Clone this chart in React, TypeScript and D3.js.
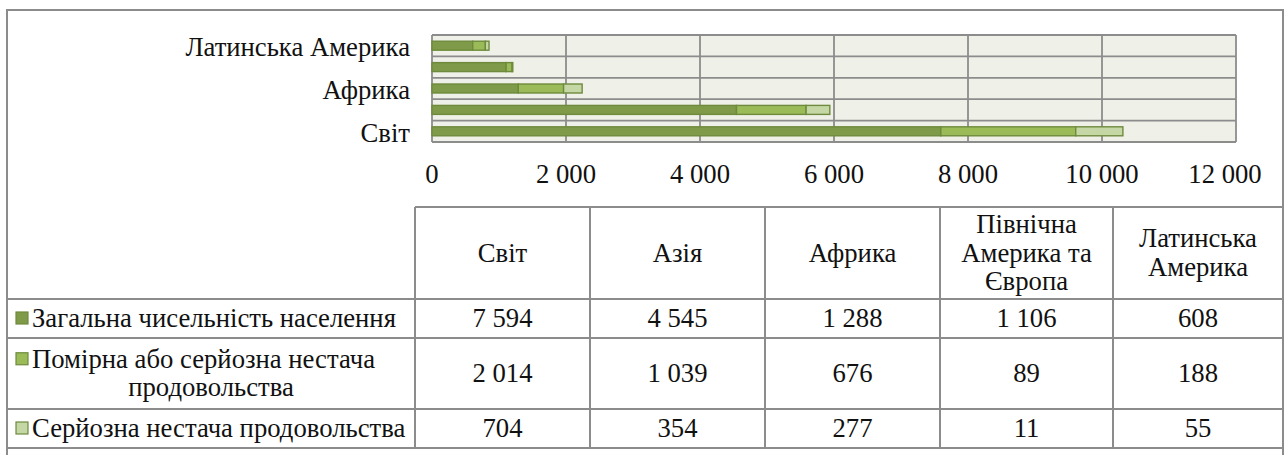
import React from 'react';
import * as d3 from 'd3';

// regions, bottom (Світ) to top
const regions = ['Світ', 'Азія', 'Африка', 'Північна Америка та Європа', 'Латинська Америка'];
const regionHeader = [['Світ'], ['Азія'], ['Африка'], ['Північна', 'Америка та', 'Європа'], ['Латинська', 'Америка']];

const totalPopulation = [7594, 4545, 1288, 1106, 608];
const moderateOrSevere = [2014, 1039, 676, 89, 188];
const severeShortage = [704, 354, 277, 11, 55];

const seriesKeys = ['total', 'moderate', 'severe'];
const seriesLabels = [
  ['Загальна чисельність населення'],
  ['Помірна або серйозна нестача', 'продовольства'],
  ['Серйозна нестача продовольства'],
];
const seriesColors = ['#7f9a48', '#9bbb59', '#c6d7a6'];
const xTicks = [0, 2000, 4000, 6000, 8000, 10000, 12000];

const FS = 26.7;
const GRID = '#8c8c8c';
const BAR_STROKE = '#6e8b3d';

const fmt = d3.formatLocale({ decimal: ',', thousands: '\u00a0', grouping: [3], currency: ['', ''] }).format(',d');

const plot = { left: 432, right: 1236, top: 35, bottom: 142 };
const colEdges = [415, 590, 765, 940, 1113, 1283];
const rowEdges = [207, 299, 338, 409, 448];
const lineGap = 28.5;

const App = () => {
  const rows = regions.map((r, i) => ({
    region: r,
    total: totalPopulation[i],
    moderate: moderateOrSevere[i],
    severe: severeShortage[i],
  }));
  const stacked = d3.stack<any>().keys(seriesKeys)(rows);

  const x = d3.scaleLinear().domain([0, 12000]).range([plot.left, plot.right]);
  const y = d3.scaleBand().domain([...regions].reverse()).range([plot.top, plot.bottom]).padding(0);
  const barH = y.bandwidth() * 0.42;
  const yEdges = [...y.domain().map(d => y(d) as number), plot.bottom];

  const seriesValues = [totalPopulation, moderateOrSevere, severeShortage];
  const headerMid = (rowEdges[0] + rowEdges[1]) / 2;

  return (
    <svg
      width={1285}
      height={455}
      style={{ position: 'absolute', left: 0, top: 0, background: 'white', fontFamily: 'Liberation Serif', fontSize: FS }}
    >
      {/* outer frame */}
      <rect x={7} y={10} width={1276} height={520} fill="white" stroke={GRID} strokeWidth={2} />

      {/* plot area */}
      <rect x={plot.left} y={plot.top} width={plot.right - plot.left} height={plot.bottom - plot.top} fill="#eff1e8" />
      {xTicks.map(t => (
        <line key={'vx' + t} x1={x(t)} x2={x(t)} y1={plot.top} y2={plot.bottom} stroke={GRID} strokeWidth={1.8} />
      ))}
      {yEdges.map((e, i) => (
        <line key={'hy' + i} x1={plot.left} x2={plot.right} y1={e} y2={e} stroke={GRID} strokeWidth={1.8} />
      ))}

      {stacked.map((layer, si) => (
        <g key={layer.key}>
          {layer.map(d => (
            <rect
              key={d.data.region}
              x={x(d[0])}
              width={x(d[1]) - x(d[0])}
              y={(y(d.data.region) as number) + y.bandwidth() / 2 - barH / 2}
              height={barH}
              fill={seriesColors[si]}
              stroke={BAR_STROKE}
              strokeWidth={1.4}
            />
          ))}
        </g>
      ))}

      {/* category labels, only every other fits */}
      {regions.filter((_, i) => i % 2 === 0).map(r => (
        <text key={r} x={410} y={(y(r) as number) + y.bandwidth() / 2 + 10.5} textAnchor="end" fill="#111">
          {r}
        </text>
      ))}

      {/* last label is pulled in so it stays inside the frame */}
      {xTicks.map(t => (
        <text key={'tx' + t} x={Math.min(x(t), plot.right - 11)} y={183} textAnchor="middle" fill="#111">
          {fmt(t)}
        </text>
      ))}

      {/* data table */}
      <line x1={colEdges[0]} x2={colEdges[5]} y1={rowEdges[0]} y2={rowEdges[0]} stroke={GRID} strokeWidth={2} />
      {rowEdges.slice(1).map(ry => (
        <line key={'r' + ry} x1={7} x2={colEdges[5]} y1={ry} y2={ry} stroke={GRID} strokeWidth={2} />
      ))}
      {colEdges.map(cx => (
        <line key={'c' + cx} x1={cx} x2={cx} y1={rowEdges[0]} y2={rowEdges[4]} stroke={GRID} strokeWidth={2} />
      ))}

      {regionHeader.map((lines, i) => {
        const cx = (colEdges[i] + colEdges[i + 1]) / 2;
        const start = headerMid - ((lines.length - 1) * lineGap) / 2 + 8.5;
        return lines.map((ln, j) => (
          <text key={'h' + i + j} x={cx} y={start + j * lineGap} textAnchor="middle" fill="#111">
            {ln}
          </text>
        ));
      })}

      {seriesValues.map((vals, si) => {
        const mid = (rowEdges[si + 1] + rowEdges[si + 2]) / 2;
        const labelLines = seriesLabels[si];
        const firstMid = mid - ((labelLines.length - 1) * lineGap) / 2;
        return (
          <g key={'s' + si}>
            <rect x={16} y={firstMid - 6.5} width={12} height={12} fill={seriesColors[si]} stroke={BAR_STROKE} strokeWidth={1.2} />
            {labelLines.map((ln, j) => (
              <text
                key={'l' + j}
                x={j === 0 ? 32 : 211}
                y={firstMid + j * lineGap + 8.5}
                textAnchor={j === 0 ? 'start' : 'middle'}
                fill="#111"
              >
                {ln}
              </text>
            ))}
            {vals.map((v, ci) => (
              <text key={'v' + ci} x={(colEdges[ci] + colEdges[ci + 1]) / 2} y={mid + 8.5} textAnchor="middle" fill="#111">
                {fmt(v)}
              </text>
            ))}
          </g>
        );
      })}
    </svg>
  );
};

export default App;
